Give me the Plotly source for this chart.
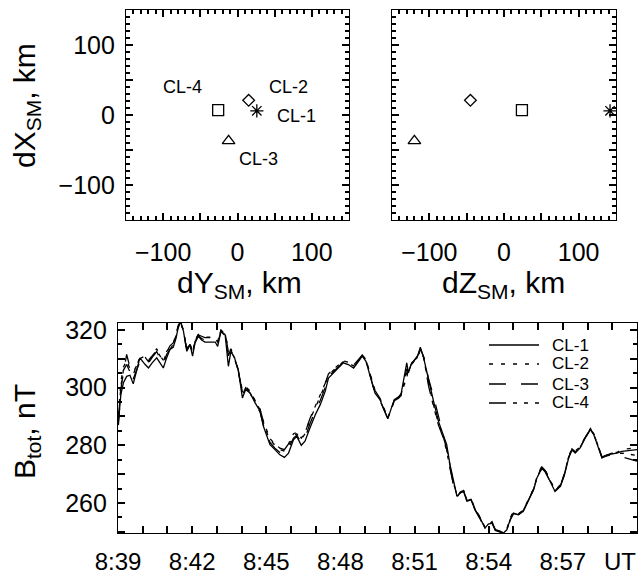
import plotly.graph_objects as go
import pandas as pd

# ---------------- data ----------------
PROBES = ["CL-1", "CL-2", "CL-3", "CL-4"]
DY = [26, 15, -12, -26]      # dY_SM, km
DX = [6, 21, -37, 7]         # dX_SM, km
DZ = [142, -45, -120, 24]    # dZ_SM, km
LABEL_DY = [80, 69, 28, -74]
LABEL_DX = [-1, 40, -63, 40]

T_SEC = [1, 7, 13, 21, 29, 37, 45, 53, 66, 74, 83, 94, 102, 110, 118, 126, 134, 141, 146, 152,
         159, 167, 175, 181, 187, 195, 203, 211, 223, 236, 242, 250, 260,
         268, 274, 283, 292, 302, 310, 321,
         333, 345, 353, 361, 369, 381, 393, 404, 414, 426, 434, 445, 454, 466, 479, 491, 503,
         511, 523, 535, 547, 559, 572, 584, 593, 602,
         612, 624, 636, 644, 655, 665, 671, 681, 687,
         695, 701, 705, 713, 726, 734, 742,
         754, 766, 778, 790, 798, 806, 814, 823, 831, 839, 847, 857, 867, 879,
         891, 899, 908, 916, 925, 936, 944, 948, 952, 960, 972, 984,
         997, 1009, 1017, 1029, 1037, 1049, 1061, 1074, 1084, 1094, 1102, 1110, 1122, 1134, 1147, 1155,
         1167, 1175, 1187, 1199, 1211, 1223, 1236, 1248, 1260]

B_CL1 = [288.3, 297.6, 301.6, 303.9, 304.3, 301.3, 305.7, 310.3, 308.0, 306.8, 308.6, 310.3, 308.6, 306.8, 310.3, 313.2, 314.0, 317.2, 320.7, 323.0,
         319.5, 312.6, 314.9, 310.9, 315.5, 317.8, 316.5, 315.8, 315.8, 315.8, 314.3, 319.5, 318.4,
         307.4, 312.6, 310.3, 306.2, 296.4, 299.3, 298.1,
         294.7, 291.8, 286.6, 283.1, 280.2, 278.5, 276.7, 275.8, 277.3, 281.9, 283.1, 280.0, 281.4, 286.0, 290.6, 294.1, 298.7,
         303.3, 305.1, 306.8, 308.6, 308.0, 306.8, 309.1, 310.9, 309.1,
         303.9, 298.1, 295.8, 292.9, 289.2, 293.5, 295.8, 296.4, 297.6,
         303.9, 308.6, 305.1, 308.6, 310.3, 314.0, 310.3,
         302.2, 295.3, 288.3, 283.7, 280.2, 273.3, 267.5, 262.3, 263.5, 264.0, 260.6, 261.1, 257.7, 254.8,
         251.3, 252.7, 253.0, 250.7, 250.2, 249.6, 250.7, 252.5, 254.2, 256.5, 255.9, 257.1,
         261.1, 264.6, 268.7, 272.1, 271.0, 267.5, 264.0, 265.8, 269.8, 275.6, 278.5, 277.3, 279.1, 282.5, 285.4, 283.7,
         278.5, 275.6, 276.7, 277.0, 277.3, 277.9, 278.1, 278.5, 278.5]

B_CL2 = [290.5, 302.0, 307.0, 309.5, 306.5, 305.5, 307.5, 310.0, 311.0, 309.5, 311.0, 313.5, 311.0, 309.5, 312.5, 314.0, 315.5, 318.0, 321.0, 322.5,
         320.0, 313.0, 315.5, 312.0, 316.5, 318.5, 318.0, 317.5, 317.5, 317.0, 316.0, 320.0, 318.5,
         313.5, 313.0, 310.0, 305.5, 299.0, 300.0, 298.5,
         295.5, 292.5, 288.0, 284.5, 282.0, 280.0, 278.5, 278.0, 280.0, 283.5, 284.0, 282.0, 284.0, 289.0, 293.0, 297.0, 301.0,
         304.5, 306.0, 307.5, 309.0, 308.5, 307.5, 309.5, 311.0, 309.5,
         304.5, 298.5, 296.0, 293.0, 289.5, 293.0, 295.5, 296.5, 297.5,
         302.0, 305.0, 306.0, 308.0, 310.5, 313.0, 310.5,
         301.5, 294.0, 287.5, 283.0, 279.0, 273.0, 267.0, 263.0, 263.5, 264.5, 261.0, 261.5, 258.0, 255.0,
         251.5, 252.5, 253.5, 251.0, 250.3, 249.8, 251.0, 252.8, 254.8, 257.0, 256.3, 257.5,
         261.5, 265.0, 269.0, 272.8, 271.5, 268.0, 264.5, 266.3, 270.3, 276.0, 279.0, 278.0, 279.5, 282.8, 285.8, 284.0,
         279.0, 276.0, 276.5, 277.5, 277.5, 278.5, 278.8, 279.0, 278.0]

B_CL3 = [287.0, 299.5, 305.0, 311.5, 307.0, 303.0, 306.0, 309.0, 310.0, 308.5, 310.5, 312.5, 310.0, 308.0, 311.5, 313.5, 315.0, 318.5, 321.5, 323.0,
         319.0, 313.5, 315.0, 311.5, 316.0, 318.0, 317.0, 316.5, 316.5, 316.5, 315.5, 319.5, 318.0,
         311.0, 313.5, 310.5, 306.0, 297.5, 300.0, 298.0,
         294.5, 291.5, 287.0, 283.5, 281.0, 279.0, 277.5, 277.0, 279.0, 282.5, 283.5, 281.0, 282.5, 287.5, 292.0, 295.5, 300.0,
         304.0, 305.5, 307.0, 308.8, 308.3, 307.0, 309.5, 311.3, 309.5,
         304.0, 298.0, 295.5, 292.8, 289.3, 293.2, 295.5, 296.3, 297.2,
         302.5, 306.5, 305.5, 308.5, 310.0, 313.5, 310.8,
         303.0, 297.0, 290.0, 283.0, 278.5, 272.5, 266.5, 262.0, 263.8, 264.3, 260.8, 261.3, 257.5, 254.5,
         251.0, 252.5, 253.2, 250.5, 250.0, 249.5, 250.5, 252.3, 254.0, 256.3, 256.0, 257.3,
         261.0, 264.8, 268.5, 272.0, 270.8, 267.3, 264.3, 266.0, 270.0, 275.8, 278.3, 277.6, 279.3, 282.7, 285.6, 283.9,
         278.6, 275.8, 276.3, 276.8, 276.5, 276.0, 275.5, 275.0, 274.5]

B_CL4 = [289.0, 300.5, 306.0, 308.0, 305.5, 304.5, 307.5, 310.5, 310.5, 309.0, 311.0, 313.0, 311.0, 309.0, 312.0, 314.5, 315.5, 318.0, 321.0, 322.8,
         319.5, 313.2, 315.3, 311.8, 316.3, 318.3, 317.8, 317.3, 317.3, 317.0, 315.8, 320.0, 318.8,
         312.5, 312.8, 310.3, 305.8, 298.5, 300.3, 298.8,
         295.3, 292.3, 288.3, 285.0, 282.3, 280.5, 279.0, 278.5, 280.5, 284.0, 284.5, 282.5, 284.3, 289.3, 293.5, 297.5, 301.5,
         304.8, 306.3, 307.8, 309.3, 308.8, 307.8, 309.8, 311.2, 309.8,
         305.0, 299.0, 296.3, 293.3, 289.6, 293.3, 295.8, 296.8, 297.8,
         301.0, 303.5, 306.3, 308.3, 310.8, 312.8, 310.5,
         300.5, 293.5, 287.0, 282.5, 278.0, 272.0, 266.8, 262.8, 263.3, 264.3, 260.8, 261.3, 257.8, 255.0,
         251.5, 252.8, 253.3, 250.8, 250.3, 249.7, 250.8, 252.6, 254.5, 256.8, 256.1, 257.4,
         261.3, 264.8, 268.8, 272.5, 271.3, 267.8, 264.3, 266.1, 270.1, 275.8, 278.8, 277.8, 279.3, 282.6, 285.6, 284.0,
         278.8, 276.0, 276.6, 277.3, 277.0, 277.3, 277.0, 276.8, 276.5]

X_TICK_LABELS = ["8:39", "8:42", "8:45", "8:48", "8:51", "8:54", "8:57"]
B_TICK_LABELS = ["260", "280", "300", "320"]
POS_TICK_LABELS = ["\u2212100", "0", "100"]

# ---------------- figure ----------------
FONT = "Liberation Sans, Arial, Helvetica, sans-serif"
W, H = 640, 573


def px_x(p):
    return p / W


def px_y(p):
    return (H - p) / H


fig = go.Figure()

MARKERS = ["asterisk-open", "diamond-open", "triangle-up-open", "square-open"]
MSIZE = [11, 9, 11, 11]

for i, p in enumerate(PROBES):
    mk = dict(symbol=MARKERS[i], size=MSIZE[i], color="black",
              line=dict(color="black", width=1.3))
    fig.add_trace(go.Scatter(x=[DY[i]], y=[DX[i]], mode="markers", showlegend=False,
                             marker=mk, xaxis="x", yaxis="y"))
    fig.add_trace(go.Scatter(x=[DZ[i]], y=[DX[i]], mode="markers", showlegend=False,
                             marker=mk, xaxis="x2", yaxis="y2"))

t0 = pd.Timestamp("2000-01-01 08:39:00")
t_end = t0 + pd.Timedelta(minutes=21)
times = [t0 + pd.Timedelta(seconds=s) for s in T_SEC]

DASHES = ["solid", "4px,8px", "17px,15px", "17px,7px,4px,7px,4px,7px"]
for p, vals, d in zip(PROBES, [B_CL1, B_CL2, B_CL3, B_CL4], DASHES):
    fig.add_trace(go.Scatter(x=times, y=vals, mode="lines", name=p, showlegend=False,
                             line=dict(color="black", width=1.3, dash=d),
                             xaxis="x3", yaxis="y3"))

# empty helper traces so the overlay axes (mirrored tick marks) are drawn
for xa, ya in [("x4", "y"), ("x", "y4"), ("x5", "y2"), ("x2", "y5"), ("x6", "y3"), ("x3", "y6")]:
    fig.add_trace(go.Scatter(x=[], y=[], mode="markers", showlegend=False, hoverinfo="skip",
                             xaxis=xa, yaxis=ya))

axis_common = dict(showline=True, linecolor="black", linewidth=1.3,
                   ticks="inside", tickcolor="black", tickwidth=2, ticklen=7,
                   showgrid=False, zeroline=False, automargin=False,
                   tickfont=dict(family=FONT, size=25, color="black"))

# position axes: ticks every 50 km (minor every 10), labels only on the values in POS_TICK_LABELS
pos_alias = {}
for v in (-150, -50, 50, 150):
    s = f"{v}"
    pos_alias[s] = ""
    pos_alias[s.replace("-", "\u2212")] = ""
pos_minor = dict(ticks="inside", dtick=10, ticklen=4, tickcolor="black",
                 tickwidth=1.5, showgrid=False)
pos_axis = dict(range=[-150, 150], dtick=50, labelalias=pos_alias, minor=pos_minor,
                **axis_common)

top_ydom = [px_y(220), px_y(10)]

fig.update_layout(
    width=W, height=H, margin=dict(l=0, r=0, t=0, b=0, autoexpand=False),
    paper_bgcolor="white", plot_bgcolor="white",
    font=dict(family=FONT, color="black"),
    showlegend=False,
    xaxis=dict(domain=[px_x(126), px_x(349)], anchor="y", mirror=True, ticklabelstandoff=10, **pos_axis),
    yaxis=dict(domain=top_ydom, anchor="x", mirror=True, ticklabelstandoff=5, **pos_axis),
    xaxis2=dict(domain=[px_x(392), px_x(616)], anchor="y2", mirror=True, ticklabelstandoff=10, **pos_axis),
    yaxis2=dict(domain=top_ydom, anchor="x2", mirror=True, showticklabels=False, **pos_axis),
    # mirrored tick marks on the opposite sides
    xaxis4=dict(overlaying="x", side="top", anchor="y", showticklabels=False, **pos_axis),
    yaxis4=dict(overlaying="y", side="right", anchor="x", showticklabels=False, **pos_axis),
    xaxis5=dict(overlaying="x2", side="top", anchor="y2", showticklabels=False, **pos_axis),
    yaxis5=dict(overlaying="y2", side="right", anchor="x2", showticklabels=False, **pos_axis),
)

# time axis: a tick every minute, labels only every 3 minutes (X_TICK_LABELS)
time_alias = {}
for m in range(0, 22):
    tt = t0 + pd.Timedelta(minutes=m)
    lab = f"{tt.hour}:{tt.minute:02d}"
    if lab not in X_TICK_LABELS:
        time_alias[lab] = ""

b_alias = {str(v): "" for v in range(250, 330, 10) if str(v) not in B_TICK_LABELS}

time_axis = dict(type="date", range=[t0, t_end], tick0=t0, dtick=60000,
                 tickformat="%-H:%M", labelalias=time_alias, tickangle=0,
                 **dict(axis_common, tickfont=dict(family=FONT, size=24, color="black")))
b_axis = dict(range=[249.6, 322.4], tick0=250, dtick=10, labelalias=b_alias,
              minor=dict(ticks="inside", dtick=5, ticklen=4, tickcolor="black",
                         tickwidth=1.5),
              **axis_common)

fig.update_layout(
    xaxis3=dict(domain=[px_x(118), px_x(637)], anchor="y3", mirror=True,
                ticklabelstandoff=7, **time_axis),
    yaxis3=dict(domain=[px_y(533), px_y(323)], anchor="x3", mirror=True,
                ticklabelstandoff=5, **b_axis),
    xaxis6=dict(overlaying="x3", side="top", anchor="y3", showticklabels=False, **time_axis),
    yaxis6=dict(overlaying="y3", side="right", anchor="x3", showticklabels=False, **b_axis),
)

# probe labels in the dY-dX panel
for i, p in enumerate(PROBES):
    fig.add_annotation(x=LABEL_DY[i], y=LABEL_DX[i], xref="x", yref="y", text=p,
                       xanchor="center", yanchor="middle", showarrow=False,
                       font=dict(family=FONT, size=18, color="black"))

# legend drawn by hand (long line samples like the original)
LEG_ROWS = [345, 364, 384, 403]
for p, d, ry in zip(PROBES, DASHES, LEG_ROWS):
    fig.add_shape(type="line", xref="paper", yref="paper", x0=px_x(489), x1=px_x(539),
                  y0=px_y(ry), y1=px_y(ry), line=dict(color="black", width=1.3, dash=d))
    fig.add_annotation(x=px_x(550), y=px_y(ry), xref="paper", yref="paper", text=p,
                       xanchor="left", yanchor="middle", showarrow=False,
                       font=dict(family=FONT, size=17, color="black"))

title_font = dict(family=FONT, size=30, color="black")
fig.add_annotation(x=px_x(26), y=px_y(106), xref="paper", yref="paper", textangle=-90,
                   xanchor="center", yanchor="middle",
                   text="dX<sub>SM</sub>, km", showarrow=False, font=title_font)
fig.add_annotation(x=px_x(239), y=px_y(284), xref="paper", yref="paper",
                   xanchor="center", yanchor="middle",
                   text="dY<sub>SM</sub>, km", showarrow=False, font=title_font)
fig.add_annotation(x=px_x(503), y=px_y(284), xref="paper", yref="paper",
                   xanchor="center", yanchor="middle",
                   text="dZ<sub>SM</sub>, km", showarrow=False, font=title_font)
fig.add_annotation(x=px_x(26), y=px_y(432), xref="paper", yref="paper", textangle=-90,
                   xanchor="center", yanchor="middle",
                   text="B<sub>tot</sub>, nT", showarrow=False, font=title_font)
fig.add_annotation(x=px_x(620), y=px_y(561), xref="paper", yref="paper",
                   xanchor="center", yanchor="middle",
                   text="UT", showarrow=False, font=dict(family=FONT, size=24, color="black"))

fig.write_html("out.html")
